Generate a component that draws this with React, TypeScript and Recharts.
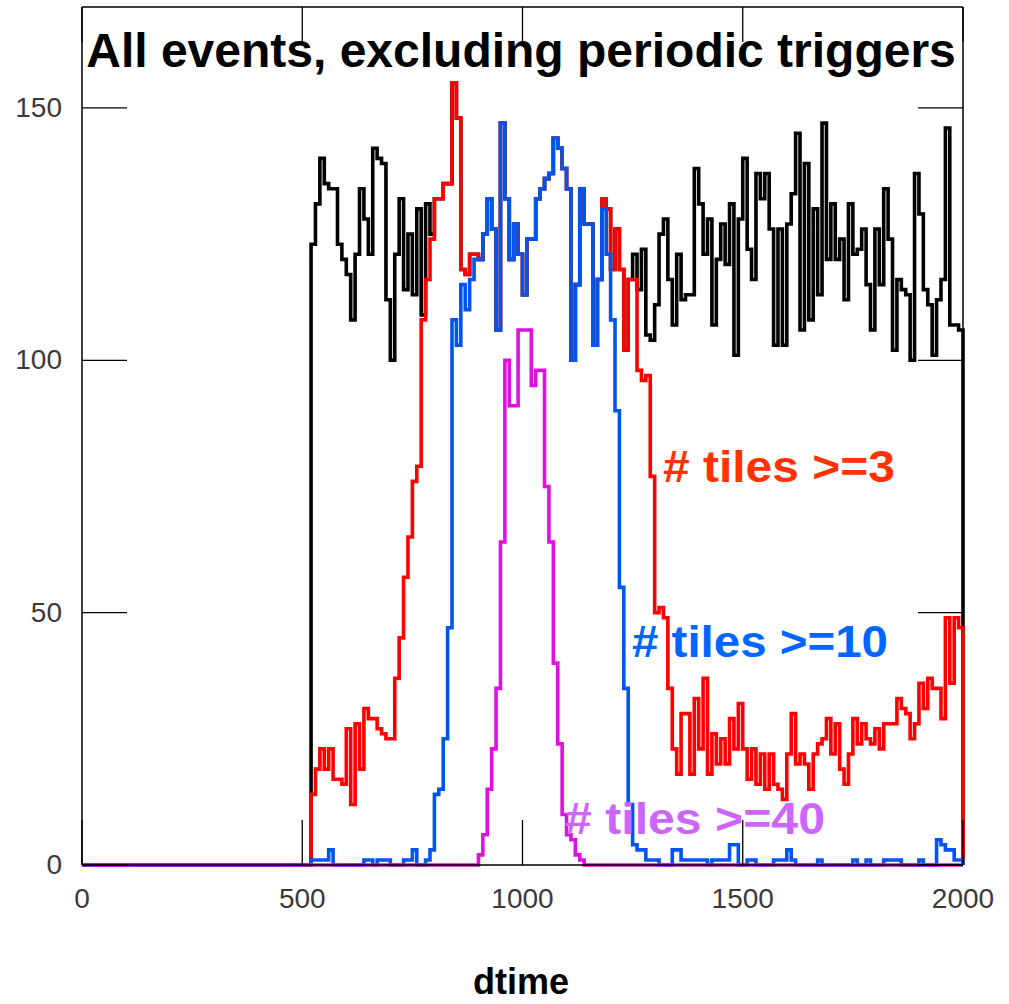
import { Line, LineChart, ReferenceLine, XAxis, YAxis } from 'recharts'

// histogram bins: dtime 520..1990, width 10
const BIN_START = 520
const BIN_WIDTH = 10

const xTicks = [0, 500, 1000, 1500, 2000]
const yTicks = [0, 50, 100, 150]

// all events (black)
const allEvents = [
  123, 131, 140, 135, 134, 134, 123, 120, 117, 108,
  121, 134, 128, 121, 142, 140, 139, 112, 100, 121,
  132, 114, 125, 113, 130, 109, 131, 125, 132, 132,
  135, 135, 155, 148, 118, 117, 121, 121, 120, 125,
  132, 126, 106, 147, 132, 120, 127, 121, 113, 124,
  124, 132, 134, 136, 137, 144, 142, 138, 134, 100,
  115, 134, 127, 127, 103, 116, 132, 130, 118, 126,
  118, 102, 116, 121, 114, 122, 105, 104, 111, 125,
  128, 116, 107, 121, 112, 113, 113, 138, 131, 121,
  128, 107, 120, 127, 119, 131, 101, 128, 140, 122,
  116, 137, 132, 137, 126, 103, 126, 103, 127, 133,
  145, 106, 139, 108, 130, 113, 147, 120, 131, 120,
  124, 112, 131, 121, 122, 126, 115, 106, 126, 115,
  134, 124, 102, 116, 114, 113, 100, 137, 129, 114,
  111, 101, 112, 116, 146, 107, 107, 106,
]

// # tiles >= 3 (red)
const tiles3 = [
  14, 19, 23, 19, 23, 17, 17, 16, 27, 12,
  28, 19, 31, 29, 29, 27, 26, 25, 25, 37,
  45, 57, 65, 76, 79, 108, 116, 124, 132, 132,
  135, 135, 155, 148, 118, 117, 121, 121, 120, 125,
  132, 126, 106, 147, 132, 120, 127, 121, 113, 124,
  124, 132, 134, 136, 137, 144, 142, 138, 134, 100,
  115, 134, 127, 127, 103, 116, 132, 130, 118, 126,
  118, 102, 116, 116, 98, 96, 97, 77, 50, 51,
  49, 35, 23, 18, 30, 30, 18, 33, 23, 37,
  18, 26, 20, 25, 20, 29, 23, 32, 23, 17,
  23, 16, 22, 15, 22, 16, 15, 13, 22, 30,
  20, 22, 20, 15, 22, 24, 25, 29, 22, 28,
  19, 16, 22, 29, 24, 28, 25, 24, 27, 23,
  28, 28, 28, 33, 31, 30, 25, 28, 36, 31,
  37, 35, 35, 29, 49, 36, 49, 47,
]

// # tiles >= 10 (blue)
const tiles10 = [
  1, 1, 1, 1, 3, 0, 0, 0, 0, 0,
  0, 0, 1, 1, 0, 1, 1, 1, 0, 0,
  0, 1, 1, 3, 0, 0, 1, 3, 14, 15,
  25, 47, 108, 103, 115, 110, 116, 120, 120, 125,
  132, 126, 106, 147, 132, 120, 127, 121, 113, 124,
  124, 132, 134, 136, 137, 144, 142, 138, 134, 100,
  115, 134, 127, 127, 103, 116, 130, 121, 108, 90,
  55, 35, 12, 4, 3, 3, 1, 1, 1, 0,
  0, 0, 3, 3, 1, 1, 1, 1, 1, 1,
  0, 1, 1, 1, 1, 4, 4, 0, 0, 1,
  1, 0, 0, 0, 0, 1, 1, 1, 3, 1,
  0, 0, 0, 0, 0, 1, 0, 0, 0, 0,
  0, 0, 0, 1, 0, 0, 1, 0, 0, 0,
  1, 1, 1, 1, 0, 0, 0, 0, 1, 0,
  0, 0, 5, 4, 3, 3, 1, 1,
]

// # tiles >= 40 (magenta)
const tiles40 = [
  0, 0, 0, 0, 0, 0, 0, 0, 0, 0,
  0, 0, 0, 0, 0, 0, 0, 0, 0, 0,
  0, 0, 0, 0, 0, 0, 0, 0, 0, 0,
  0, 0, 0, 0, 0, 0, 0, 0, 2, 6,
  15, 23, 35, 64, 100, 91, 91, 106, 106, 106,
  95, 98, 98, 75, 64, 40, 24, 10, 6, 5,
  2, 1, 0, 0, 0, 0, 0, 0, 0, 0,
  0, 0, 0, 0, 0, 0, 0, 0, 0, 0,
  0, 0, 0, 0, 0, 0, 0, 0, 0, 0,
  0, 0, 0, 0, 0, 0, 0, 0, 0, 0,
  0, 0, 0, 0, 0, 0, 0, 0, 0, 0,
  0, 0, 0, 0, 0, 0, 0, 0, 0, 0,
  0, 0, 0, 0, 0, 0, 0, 0, 0, 0,
  0, 0, 0, 0, 0, 0, 0, 0, 0, 0,
  0, 0, 0, 0, 0, 0, 0, 0,
]

const data = [
  { x: 0, all: 0, t3: 0, t10: 0, t40: 0 },
  ...allEvents.map((v, i) => ({
    x: BIN_START + i * BIN_WIDTH,
    all: v,
    t3: tiles3[i],
    t10: tiles10[i],
    t40: tiles40[i],
  })),
  { x: 2000, all: 0, t3: 0, t10: 0, t40: 0 },
]

// plot box in px
const TOP = 7
const LEFT = 82
const RIGHT = 963
const BOTTOM = 865

const tickFont = { fontFamily: 'Liberation Sans, Arial, sans-serif', fontSize: 28, fill: '#3a3a3a' }

function XTick({ x, y, payload }: any) {
  return (
    <g>
      <line x1={x} y1={BOTTOM} x2={x} y2={BOTTOM - 45} stroke="#000" strokeWidth={1.3} />
      <line x1={x} y1={TOP} x2={x} y2={TOP + 35} stroke="#000" strokeWidth={1.3} />
      <text x={x} y={y + 43} textAnchor="middle" {...tickFont}>{payload.value}</text>
    </g>
  )
}

function YTick({ x, y, payload }: any) {
  return (
    <g>
      <line x1={LEFT} y1={y} x2={LEFT + 45} y2={y} stroke="#000" strokeWidth={1.3} />
      <line x1={RIGHT - 45} y1={y} x2={RIGHT} y2={y} stroke="#000" strokeWidth={1.3} />
      <text x={x - 20} y={y + 9} textAnchor="end" {...tickFont}>{payload.value}</text>
    </g>
  )
}

const bold = { fontFamily: 'Liberation Sans, Arial, sans-serif', fontWeight: 700 }

export default function App() {
  return (
    <div style={{ position: 'absolute', left: 0, top: 0, width: 1009, height: 1004, background: '#fff' }}>
      <LineChart width={1009} height={1004} data={data} margin={{ top: TOP, right: 46, bottom: 99, left: 0 }}>
        <XAxis
          type="number"
          dataKey="x"
          domain={[0, 2000]}
          ticks={xTicks}
          interval={0}
          height={40}
          axisLine={{ stroke: '#000', strokeWidth: 1.5 }}
          tickLine={false}
          tickSize={0}
          tickMargin={0}
          tick={(props: any) => <XTick {...props} />}
        />
        <YAxis
          type="number"
          domain={[0, 170]}
          ticks={yTicks}
          interval={0}
          width={82}
          axisLine={{ stroke: '#000', strokeWidth: 1.5 }}
          tickLine={false}
          tickSize={0}
          tickMargin={0}
          tick={(props: any) => <YTick {...props} />}
        />
        <ReferenceLine y={170} stroke="#000" strokeWidth={1.5} />
        <ReferenceLine x={2000} stroke="#000" strokeWidth={1.5} />
        <Line type="stepAfter" dataKey="all" stroke="#000000" strokeWidth={3.6} dot={false} isAnimationActive={false} />
        <Line type="stepAfter" dataKey="t3" stroke="#ff0000" strokeWidth={3.6} dot={false} isAnimationActive={false} />
        <Line type="stepAfter" dataKey="t10" stroke="#0055ee" strokeWidth={3.6} dot={false} isAnimationActive={false} />
        <Line type="stepAfter" dataKey="t40" stroke="#e010e0" strokeWidth={3.6} dot={false} isAnimationActive={false} />
      </LineChart>
      <svg width={1009} height={1004} style={{ position: 'absolute', left: 0, top: 0, pointerEvents: 'none' }}>
        <text x={521} y={67} textAnchor="middle" fontSize={48} fill="#000" {...bold}>
          All events, excluding periodic triggers
        </text>
        <text x={663} y={482} fontSize={45} fill="#ff3300" textLength={232} lengthAdjust="spacingAndGlyphs" {...bold}>
          # tiles &gt;=3
        </text>
        <text x={632} y={657} fontSize={45} fill="#0066ff" textLength={256} lengthAdjust="spacingAndGlyphs" {...bold}>
          # tiles &gt;=10
        </text>
        <text x={565} y={834} fontSize={45} fill="#cc66ff" textLength={260} lengthAdjust="spacingAndGlyphs" {...bold}>
          # tiles &gt;=40
        </text>
        <text x={521} y={994} textAnchor="middle" fontSize={36} fill="#000" {...bold}>
          dtime
        </text>
      </svg>
    </div>
  )
}
